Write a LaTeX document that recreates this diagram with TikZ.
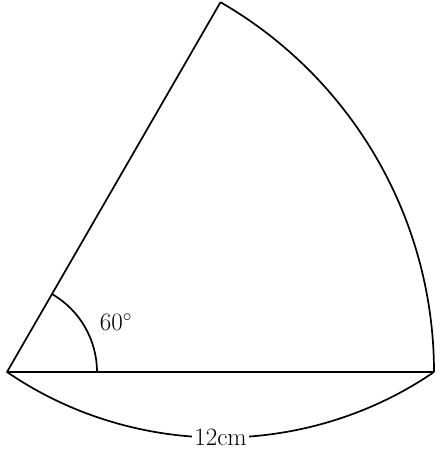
\documentclass[tikz,border=0pt]{standalone}
\begin{document}
\begin{tikzpicture}[x=1pt,y=1pt,line width=1.7pt,
  lbl/.style={font=\fontsize{25}{25}\selectfont, inner sep=2pt}]
\useasboundingbox (0,0) rectangle (440,452);
\coordinate (O) at (7,80);
\coordinate (A) at (434,80);
\coordinate (B) at (220.5,449.8);
\coordinate (C) at (97,80);
\draw[line join=round] (A) -- (O) -- (B);
\draw (A) arc[start angle=0, end angle=60, radius=427];
\draw (C) arc[start angle=0, end angle=60, radius=90];
\node[lbl] (ang) at (116,130) {60$^\circ$};
\draw (O) to[bend right=34.4, looseness=0.93] node[lbl, fill=white, pos=0.5] (len) {12cm} (A);
\end{tikzpicture}
\end{document}
